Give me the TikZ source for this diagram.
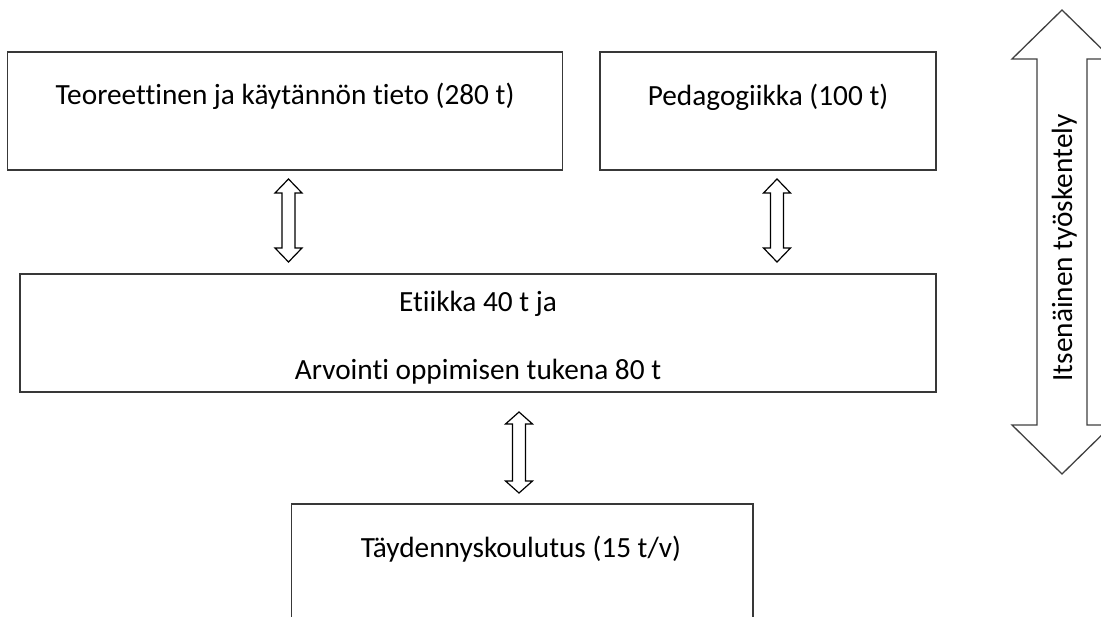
\documentclass[tikz,border=0pt]{standalone}
\usepackage{fontspec}
\setmainfont{Carlito}[Ligatures={NoCommon,NoRare}]
\usetikzlibrary{calc}
\newcommand{\dblockarrow}[5]{% top, bottom, head half width, shaft half width, head length
  \draw[blockarrow] (#1) -- ++(#3,#5) -- ++(-#3+#4,0) -- ($(#2)+(#4,-#5)$) -- ++(#3-#4,0) -- (#2)
    -- ++(-#3,-#5) -- ++(#3-#4,0) -- ($(#1)+(-#4,#5)$) -- ++(-#3+#4,0) -- cycle;}
\tikzset{
  box/.style={draw=black!78, line width=1.6bp, rectangle, inner sep=0pt, fill=white},
  lbl/.style={font=\fontsize{29.3bp}{35bp}\selectfont, inner sep=0pt, anchor=base, text=black},
  blockarrow/.style={draw=black, line width=1.2bp, fill=white, line join=miter},
  bigarrow/.style={draw=black!75, line width=1.3bp, fill=white, line join=miter}
}
\begin{document}
\begin{tikzpicture}[x=1bp,y=-1bp]
\useasboundingbox (0,0) rectangle (1101,617);
\clip (0,0) rectangle (1101,617);
% boxes
\node[box, minimum width=555bp, minimum height=118bp] (b1) at (285,111) {};
\node[box, minimum width=336bp, minimum height=118bp] (b2) at (768,111) {};
\node[box, minimum width=916bp, minimum height=118bp] (b3) at (478,333) {};
\node[box, minimum width=461.5bp, minimum height=150bp, anchor=north west] (b4) at (290.5,503) {};
% texts
\node[lbl] (t1) at (285,105) {Teoreettinen ja käytännön tieto (280 t)};
\node[lbl] (t2) at (768,105.5) {Pedagogiikka (100 t)};
\node[lbl] (t3a) at (478,312) {Etiikka 40 t ja};
\node[lbl] (t3b) at (478,379) {Arvointi oppimisen tukena 80 t};
\node[lbl] (t4) at (521,557) {Täydennyskoulutus (15 t/v)};
% small double arrows between boxes
\coordinate (a1t) at (288.5,179); \coordinate (a1b) at (288.5,262);
\coordinate (a2t) at (777,179);   \coordinate (a2b) at (777,262);
\coordinate (a3t) at (519,412);   \coordinate (a3b) at (519,493);
\dblockarrow{a1t}{a1b}{13.5}{6.5}{14}
\dblockarrow{a2t}{a2b}{13.5}{6.5}{14}
\dblockarrow{a3t}{a3b}{13.5}{6.5}{12}
% big side arrow
\coordinate (bt) at (1062,10); \coordinate (bb) at (1062,474);
\draw[bigarrow] (bt) -- ++(50,49) -- ++(-25,0) -- ($(bb)+(25,-49)$) -- ++(25,0) -- (bb)
   -- ++(-50,-49) -- ++(25,0) -- ($(bt)+(-25,49)$) -- ++(-25,0) -- cycle;
\node[lbl, rotate=90] (tv) at (1072,248) {Itsenäinen työskentely};
\end{tikzpicture}
\end{document}
